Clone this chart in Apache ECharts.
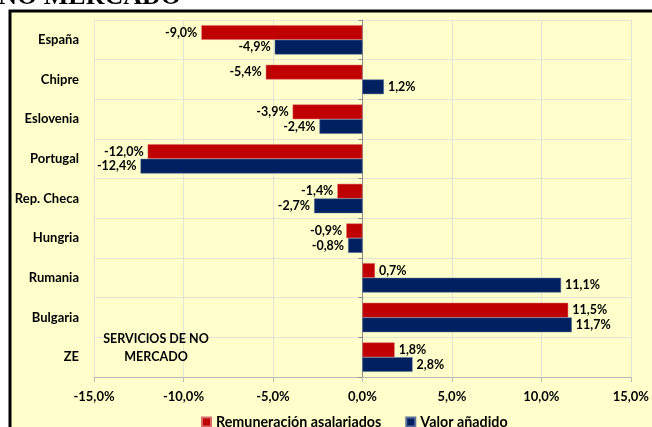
<!DOCTYPE html>
<html>
<head>
<meta charset="utf-8">
<script src="https://cdn.jsdelivr.net/npm/echarts@6/dist/echarts.min.js"></script>
<style>
    html, body { margin: 0; padding: 0; background: #ffffff; }
    #chart { width: 652px; height: 427px; }
</style>
</head>
<body>
<div id="chart"></div>
<script>
    // datos
    var categories = ['España', 'Chipre', 'Eslovenia', 'Portugal', 'Rep. Checa', 'Hungria', 'Rumania', 'Bulgaria', 'ZE'];
    var remuneracion = [-9.0, -5.4, -3.9, -12.0, -1.4, -0.9, 0.7, 11.5, 1.8];
    var valorAnadido = [-4.9, 1.2, -2.4, -12.4, -2.7, -0.8, 11.1, 11.7, 2.8];
    var xTicks = [-15, -10, -5, 0, 5, 10, 15];

    var FONT = 'Lato';

    function pct(v) {
        return v.toFixed(1).replace('.', ',') + '%';
    }

    // etiqueta a la izquierda si es negativo, a la derecha si es positivo
    function withLabels(values) {
        return values.map(function (v) {
            return {
                value: v,
                label: { position: v < 0 ? 'left' : 'right' }
            };
        });
    }

    var barLabel = {
        show: true,
        distance: 4,
        fontFamily: FONT,
        fontWeight: 'bold',
        fontSize: 12.5,
        color: '#000000',
        formatter: function (p) { return pct(p.value); }
    };

    var chart = echarts.init(document.getElementById('chart'));

    chart.setOption({
        animation: false,
        backgroundColor: '#ffffff',
        textStyle: { fontFamily: FONT },
        graphic: [
            {
                type: 'rect',
                z: -10,
                shape: { x: 10, y: 11, width: 700, height: 500 },
                style: { fill: '#FFFFCC', stroke: '#000000', lineWidth: 3 }
            },
            {
                type: 'text',
                z: 10,
                x: 181,
                y: 10,
                style: {
                    text: 'NO MERCADO',
                    font: 'bold 26px "Liberation Serif"',
                    fill: '#000000',
                    align: 'right',
                    verticalAlign: 'bottom'
                }
            },
            {
                type: 'text',
                z: 10,
                x: 156,
                y: 330,
                style: {
                    text: 'SERVICIOS DE NO\nMERCADO',
                    font: 'bold 12.5px ' + FONT,
                    fill: '#000000',
                    align: 'center',
                    lineHeight: 18
                }
            }
        ],
        grid: { left: 94, right: 18, top: 20, bottom: 50 },
        legend: {
            left: 196,
            top: 410,
            icon: 'rect',
            itemWidth: 9,
            itemHeight: 9,
            itemGap: 24,
            textStyle: { fontFamily: FONT, fontWeight: 'bold', fontSize: 14.3, color: '#000000' },
            data: ['Remuneración asalariados', 'Valor añadido']
        },
        xAxis: {
            type: 'value',
            min: xTicks[0],
            max: xTicks[xTicks.length - 1],
            interval: 5,
            axisLine: { show: true, lineStyle: { color: '#b8b8b8' } },
            axisTick: { show: true, length: 5, lineStyle: { color: '#b8b8b8' } },
            axisLabel: {
                margin: 13,
                fontFamily: FONT,
                fontWeight: 'bold',
                fontSize: 13,
                color: '#000000',
                formatter: function (v) { return pct(v); }
            },
            splitLine: { show: true, lineStyle: { color: '#e4e4d6' } }
        },
        yAxis: [
            {
                type: 'category',
                inverse: true,
                data: categories,
                axisLine: { show: false, onZero: false },
                axisTick: { show: false },
                splitLine: { show: true, lineStyle: { color: '#e4e4d6' } },
                axisLabel: {
                    margin: 15,
                    fontFamily: FONT,
                    fontWeight: 'bold',
                    fontSize: 13,
                    color: '#000000'
                }
            },
            {
                type: 'category',
                inverse: true,
                position: 'left',
                data: categories,
                axisLine: { show: true, onZero: true, lineStyle: { color: '#8c8c8c' } },
                axisTick: { show: true, length: 4, lineStyle: { color: '#8c8c8c' } },
                axisLabel: { show: false },
                splitLine: { show: false }
            }
        ],
        series: [
            {
                name: 'Remuneración asalariados',
                type: 'bar',
                yAxisIndex: 0,
                barGap: '0%',
                barCategoryGap: '26%',
                itemStyle: { color: '#C00000', borderColor: '#d86a6a', borderWidth: 0.5 },
                label: barLabel,
                data: withLabels(remuneracion)
            },
            {
                name: 'Valor añadido',
                type: 'bar',
                yAxisIndex: 0,
                barGap: '0%',
                barCategoryGap: '26%',
                itemStyle: { color: '#002060', borderColor: '#5a6f9a', borderWidth: 0.5 },
                label: barLabel,
                data: withLabels(valorAnadido)
            }
        ]
    });
</script>
</body>
</html>
